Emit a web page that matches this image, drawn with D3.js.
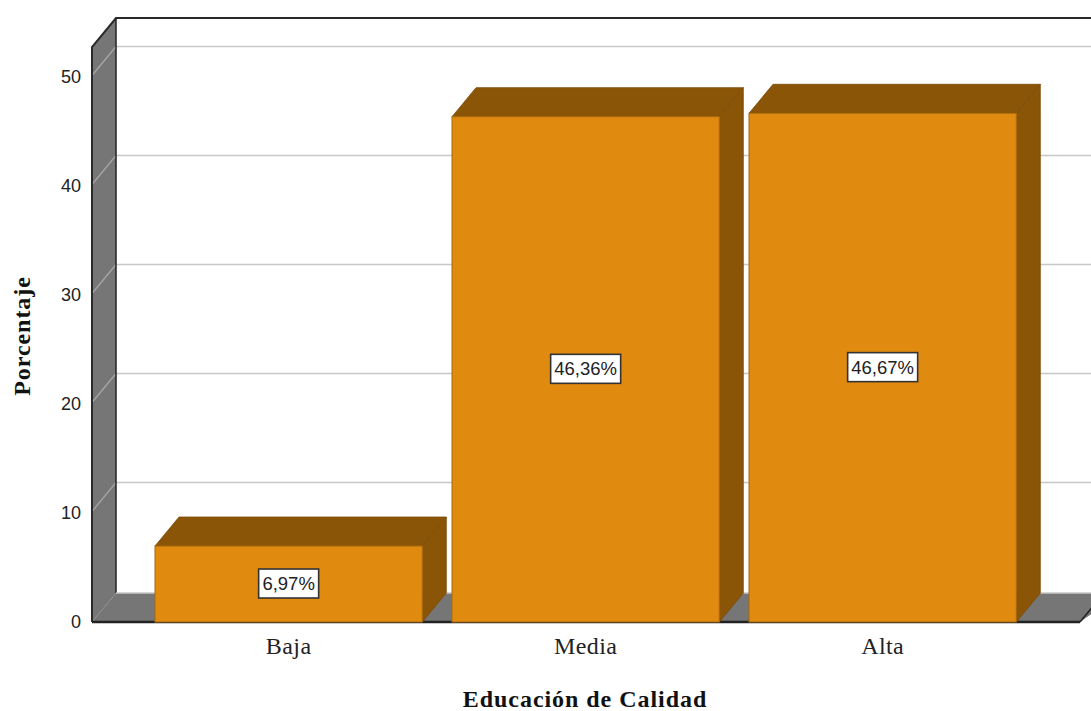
<!DOCTYPE html>
<html lang="es">
<head>
  <meta charset="UTF-8">
  <title>Educación de Calidad</title>
  <script src="https://d3js.org/d3.v7.min.js"></script>
  <style>
    body { margin: 0; background: #fff; overflow: hidden; }
    svg { display: block; }
    .tick-y { font: 18px "Liberation Sans", sans-serif; fill: #222; }
    .tick-x { font: 24px "Liberation Serif", serif; fill: #222; letter-spacing: 0.4px; }
    .title { font: bold 24px "Liberation Serif", serif; fill: #111; letter-spacing: 0.95px; }
    .value { font: 18.5px "Liberation Sans", sans-serif; fill: #222; }
  </style>
</head>
<body>
  <svg width="1091" height="711"></svg>

  <script>
    const categories = ["Baja", "Media", "Alta"];
    const values = [6.97, 46.36, 46.67];
    const valueLabels = ["6,97%", "46,36%", "46,67%"];
    const yTicks = [0, 10, 20, 30, 40, 50];

    const width = 1091, height = 711;
    const depthX = 24, depthY = 29;   // 3d offset of the back wall
    const left = 92, right = 1080, bottom = 622;
    const orange = "#e08a10", brown = "#8b5508", wall = "#767676";

    const svg = d3.select("svg");

    const y = d3.scaleLinear().domain([0, 50]).range([bottom, 77]);
    const x = d3.scaleBand().domain(categories)
      .range([140.15, 1031.15]).paddingInner(0.1).paddingOuter(0.05);
    const topY = y(52.75);

    const poly = pts => pts.map(p => p.join(",")).join(" ");

    // side wall and floor
    svg.append("polygon")
      .attr("points", poly([[left, bottom], [left, topY], [left + depthX, topY - depthY], [left + depthX, bottom - depthY]]))
      .attr("fill", wall);
    svg.append("polygon")
      .attr("points", poly([[left, bottom], [left + depthX, bottom - depthY], [width + 30, bottom - depthY], [right, bottom]]))
      .attr("fill", wall);

    // grid lines, back wall and side wall
    const grid = svg.append("g");
    grid.selectAll(".back").data(yTicks.slice(1)).enter().append("line")
      .attr("x1", left + depthX).attr("x2", width)
      .attr("y1", d => y(d) - depthY - 1.5).attr("y2", d => y(d) - depthY - 1.5)
      .attr("stroke", "#c8c8c8").attr("stroke-width", 1.6);
    grid.selectAll(".side").data(yTicks.slice(1)).enter().append("line")
      .attr("x1", left).attr("x2", left + depthX)
      .attr("y1", d => y(d) - 1.5).attr("y2", d => y(d) - depthY - 1.5)
      .attr("stroke", "#a8a8a8").attr("stroke-width", 1.2);

    // frame
    svg.append("path")
      .attr("d", `M${left},${bottom}V${topY}L${left + depthX},${topY - depthY}H${width}`)
      .attr("fill", "none").attr("stroke", "#2a2a2a").attr("stroke-width", 2);
    svg.append("line")
      .attr("x1", left + depthX).attr("x2", left + depthX)
      .attr("y1", topY - depthY).attr("y2", bottom - depthY)
      .attr("stroke", "#222").attr("stroke-width", 1.5);
    svg.append("line")
      .attr("x1", left).attr("x2", right)
      .attr("y1", bottom).attr("y2", bottom)
      .attr("stroke", "#222").attr("stroke-width", 2.5);
    svg.append("line")
      .attr("x1", left + depthX).attr("x2", width)
      .attr("y1", bottom - depthY).attr("y2", bottom - depthY)
      .attr("stroke", "#c8c8c8").attr("stroke-width", 1.5);
    svg.append("line")
      .attr("x1", right).attr("x2", right + depthX)
      .attr("y1", bottom).attr("y2", bottom - depthY)
      .attr("stroke", "#222").attr("stroke-width", 1.5);

    // bars
    const bars = svg.selectAll(".bar").data(categories).enter().append("g").attr("class", "bar");
    const bx = c => x(c);
    const bw = x.bandwidth();
    const by = (c, i) => y(values[i]);

    bars.append("polygon")
      .attr("points", (c, i) => poly([
        [bx(c), by(c, i)], [bx(c) + depthX, by(c, i) - depthY],
        [bx(c) + bw + depthX, by(c, i) - depthY], [bx(c) + bw, by(c, i)]]))
      .attr("fill", brown).attr("stroke", "#7a4a06").attr("stroke-width", 0.8);
    bars.append("polygon")
      .attr("points", (c, i) => poly([
        [bx(c) + bw, by(c, i)], [bx(c) + bw + depthX, by(c, i) - depthY],
        [bx(c) + bw + depthX, bottom - depthY], [bx(c) + bw, bottom]]))
      .attr("fill", brown).attr("stroke", "#7a4a06").attr("stroke-width", 0.8);
    bars.append("rect")
      .attr("x", bx).attr("y", by).attr("width", bw)
      .attr("height", (c, i) => bottom - by(c, i))
      .attr("fill", orange).attr("stroke", "#a8690c").attr("stroke-width", 1);

    // value labels
    bars.append("rect")
      .attr("x", c => bx(c) + bw / 2 - (c === "Baja" ? 30 : 35))
      .attr("y", (c, i) => (by(c, i) + bottom) / 2 - 15)
      .attr("width", c => c === "Baja" ? 60 : 70).attr("height", 29)
      .attr("fill", "#fff").attr("stroke", "#333").attr("stroke-width", 1.6);
    bars.append("text").attr("class", "value")
      .attr("x", c => bx(c) + bw / 2)
      .attr("y", (c, i) => (by(c, i) + bottom) / 2 + 6)
      .attr("text-anchor", "middle")
      .text((c, i) => valueLabels[i]);

    // axes
    const yAxis = svg.append("g").attr("transform", `translate(${left},0)`)
      .call(d3.axisLeft(y).tickValues(yTicks).tickSize(0).tickPadding(11));
    yAxis.select(".domain").remove();
    yAxis.selectAll("text").attr("class", "tick-y").attr("font-family", null).attr("font-size", null);

    const xAxis = svg.append("g").attr("transform", `translate(0,${bottom})`)
      .call(d3.axisBottom(x).tickSize(0).tickPadding(15));
    xAxis.select(".domain").remove();
    xAxis.selectAll("text").attr("class", "tick-x");

    svg.append("text").attr("class", "title")
      .attr("x", 585).attr("y", 707).attr("text-anchor", "middle")
      .text("Educación de Calidad");
    svg.append("text").attr("class", "title")
      .attr("transform", "translate(30,336) rotate(-90)")
      .attr("text-anchor", "middle")
      .text("Porcentaje");
  </script>
</body>
</html>
